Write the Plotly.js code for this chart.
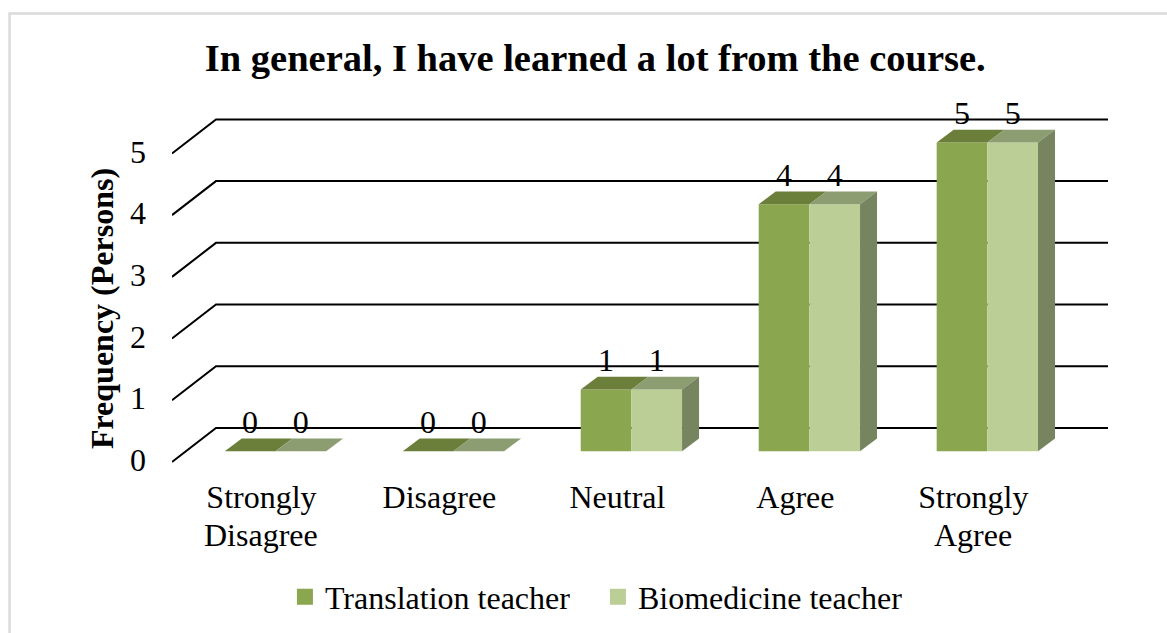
<!DOCTYPE html>
<html><head><meta charset="utf-8">
<script src="https://cdn.plot.ly/plotly-3.0.1.min.js"></script>
<style>html,body{margin:0;padding:0;background:#fff;overflow:hidden}</style>
</head><body><div id="chart" style="width:1167px;height:633px"></div>
<script>
const categoryLine1 = ["Strongly","Disagree","Neutral","Agree","Strongly"];
const categoryLine2 = ["Disagree","","","","Agree"];
const translation = [0,0,1,4,5];
const biomedicine = [0,0,1,4,5];
const yTicks = [0,1,2,3,4,5];
const seriesNames = ["Translation teacher","Biomedicine teacher"];
const seriesValues = [translation, biomedicine];
const frontColors = ["#8aa64e","#bbce96"];
const topColors = ["#6b7f3a","#8c9d72"];
const sideColor = "#76845f";

const W=1167,H=633;
const plotL=171.5,plotR=1108,plotT=90,plotB=527,zeroPx=462;
const unitX=178.07,unitY=61.72;
const x0=(plotL-275)/unitX;
const xEnd=(plotR-275)/unitX;
const yMin=-(plotB-zeroPx)/unitY, yEnd=(zeroPx-plotT)/unitY;
const barW=50.7/unitX, depX=17/unitX, depY=12.8/unitY, floorY=10.8/unitY;
const backX=44/unitX, backY=34/unitY, labelX=-14/unitX, tickShift=2/unitY;
const serif="'Liberation Serif','Times New Roman',serif";
const px=p=>(plotB-p)/(plotB-plotT);
const pxX=p=>(p-plotL)/(plotR-plotL);

const traces=[];
seriesValues.forEach((vals,s)=>{
  traces.push({type:"bar",x:vals.map((_,i)=>i),y:vals,base:vals.map(()=>floorY),
    width:barW,offset:s===0?-barW:0,marker:{color:frontColors[s],line:{width:0}},
    showlegend:false,hoverinfo:"skip",cliponaxis:false});
});
seriesValues.forEach((vals,s)=>{
  const xs=[],ys=[];
  vals.forEach((v,i)=>{
    const a=i+(s===0?-barW:0), t=v+floorY;
    xs.push(a,a+barW,a+barW+depX,a+depX,a,null);
    ys.push(t,t,t+depY,t+depY,t,null);
  });
  traces.push({type:"scatter",mode:"lines",x:xs,y:ys,fill:"toself",fillcolor:topColors[s],
    line:{width:0},showlegend:false,hoverinfo:"skip"});
});
{
  const xs=[],ys=[];
  biomedicine.forEach((v,i)=>{
    if(v<=0) return;
    const a=i+barW,b=floorY,t=v+floorY;
    xs.push(a,a+depX,a+depX,a,a,null);
    ys.push(b,b+depY,t+depY,t,b,null);
  });
  traces.push({type:"scatter",mode:"lines",x:xs,y:ys,fill:"toself",fillcolor:sideColor,
    line:{width:0},showlegend:false,hoverinfo:"skip"});
}
seriesValues.forEach((vals,s)=>{
  traces.push({type:"scatter",mode:"text",x:vals.map((_,i)=>i+(s===0?-barW/2:barW/2)),
    y:vals.map(v=>v+0.605),text:vals.map(String),textposition:"middle center",
    textfont:{family:serif,size:32,color:"#000"},showlegend:false,hoverinfo:"skip",cliponaxis:false});
});
seriesNames.forEach((n,s)=>{
  traces.push({type:"scatter",mode:"markers",name:n,x:[null],y:[null],
    marker:{symbol:"square",size:16,color:frontColors[s]}});
});

const shapes=[];
yTicks.forEach(t=>{
  shapes.push({type:"path",layer:"below",xref:"x",yref:"y",
    path:`M${x0},${t} L${x0+backX},${t+backY} L${xEnd},${t+backY}`,
    line:{color:"#000",width:2}});
});
shapes.push({type:"rect",xref:"paper",yref:"paper",layer:"below",
  x0:pxX(9),x1:pxX(1180),y0:px(650),y1:px(13.5),
  line:{color:"#dadada",width:2.5}});

const annotations=categoryLine2.map((t,i)=>({text:t,showarrow:false,xref:"x",yref:"paper",
  x:i+labelX,y:px(535),xanchor:"center",yanchor:"middle",
  font:{family:serif,size:32,color:"#000"}})).filter(a=>a.text);

const layout={
  width:W,height:H,autosize:false,paper_bgcolor:"#fff",plot_bgcolor:"rgba(0,0,0,0)",
  margin:{l:plotL,r:W-plotR,t:plotT,b:H-plotB,pad:0,autoexpand:false},
  showlegend:true,barmode:"overlay",
  title:{text:"<b>In general, I have learned a lot from the course.</b>",
    font:{family:serif,size:38.5,color:"#000"},xref:"paper",yref:"container",
    x:pxX(595),xanchor:"center",y:1-58/H,yanchor:"middle"},
  xaxis:{range:[x0,xEnd],tickmode:"array",tickvals:categoryLine1.map((_,i)=>i+labelX),ticktext:categoryLine1,
    anchor:"free",position:px(zeroPx),
    showgrid:false,zeroline:false,showline:false,ticks:"",ticklen:0,
    ticklabelstandoff:13,tickfont:{family:serif,size:32,color:"#000"},fixedrange:true,tickangle:0},
  yaxis:{range:[yMin,yEnd],tickmode:"array",tickvals:yTicks.map(t=>t+tickShift),ticktext:yTicks.map(String),
    showgrid:false,zeroline:false,showline:false,ticks:"",ticklen:0,ticklabelstandoff:25,
    tickfont:{family:serif,size:32,color:"#000"},fixedrange:true,
    title:{text:"<b>Frequency (Persons)</b>",font:{family:serif,size:32,color:"#000"},standoff:6}},
  legend:{orientation:"h",xref:"paper",yref:"paper",x:pxX(284.5),xanchor:"left",
    y:px(597),yanchor:"middle",font:{family:serif,size:32,color:"#000"},
    bgcolor:"rgba(0,0,0,0)",entrywidth:268,entrywidthmode:"pixels",itemclick:false,itemdoubleclick:false,traceorder:"normal"},
  shapes:shapes,annotations:annotations
};
Plotly.newPlot("chart",traces,layout,{displayModeBar:false,staticPlot:true});
</script></body></html>
